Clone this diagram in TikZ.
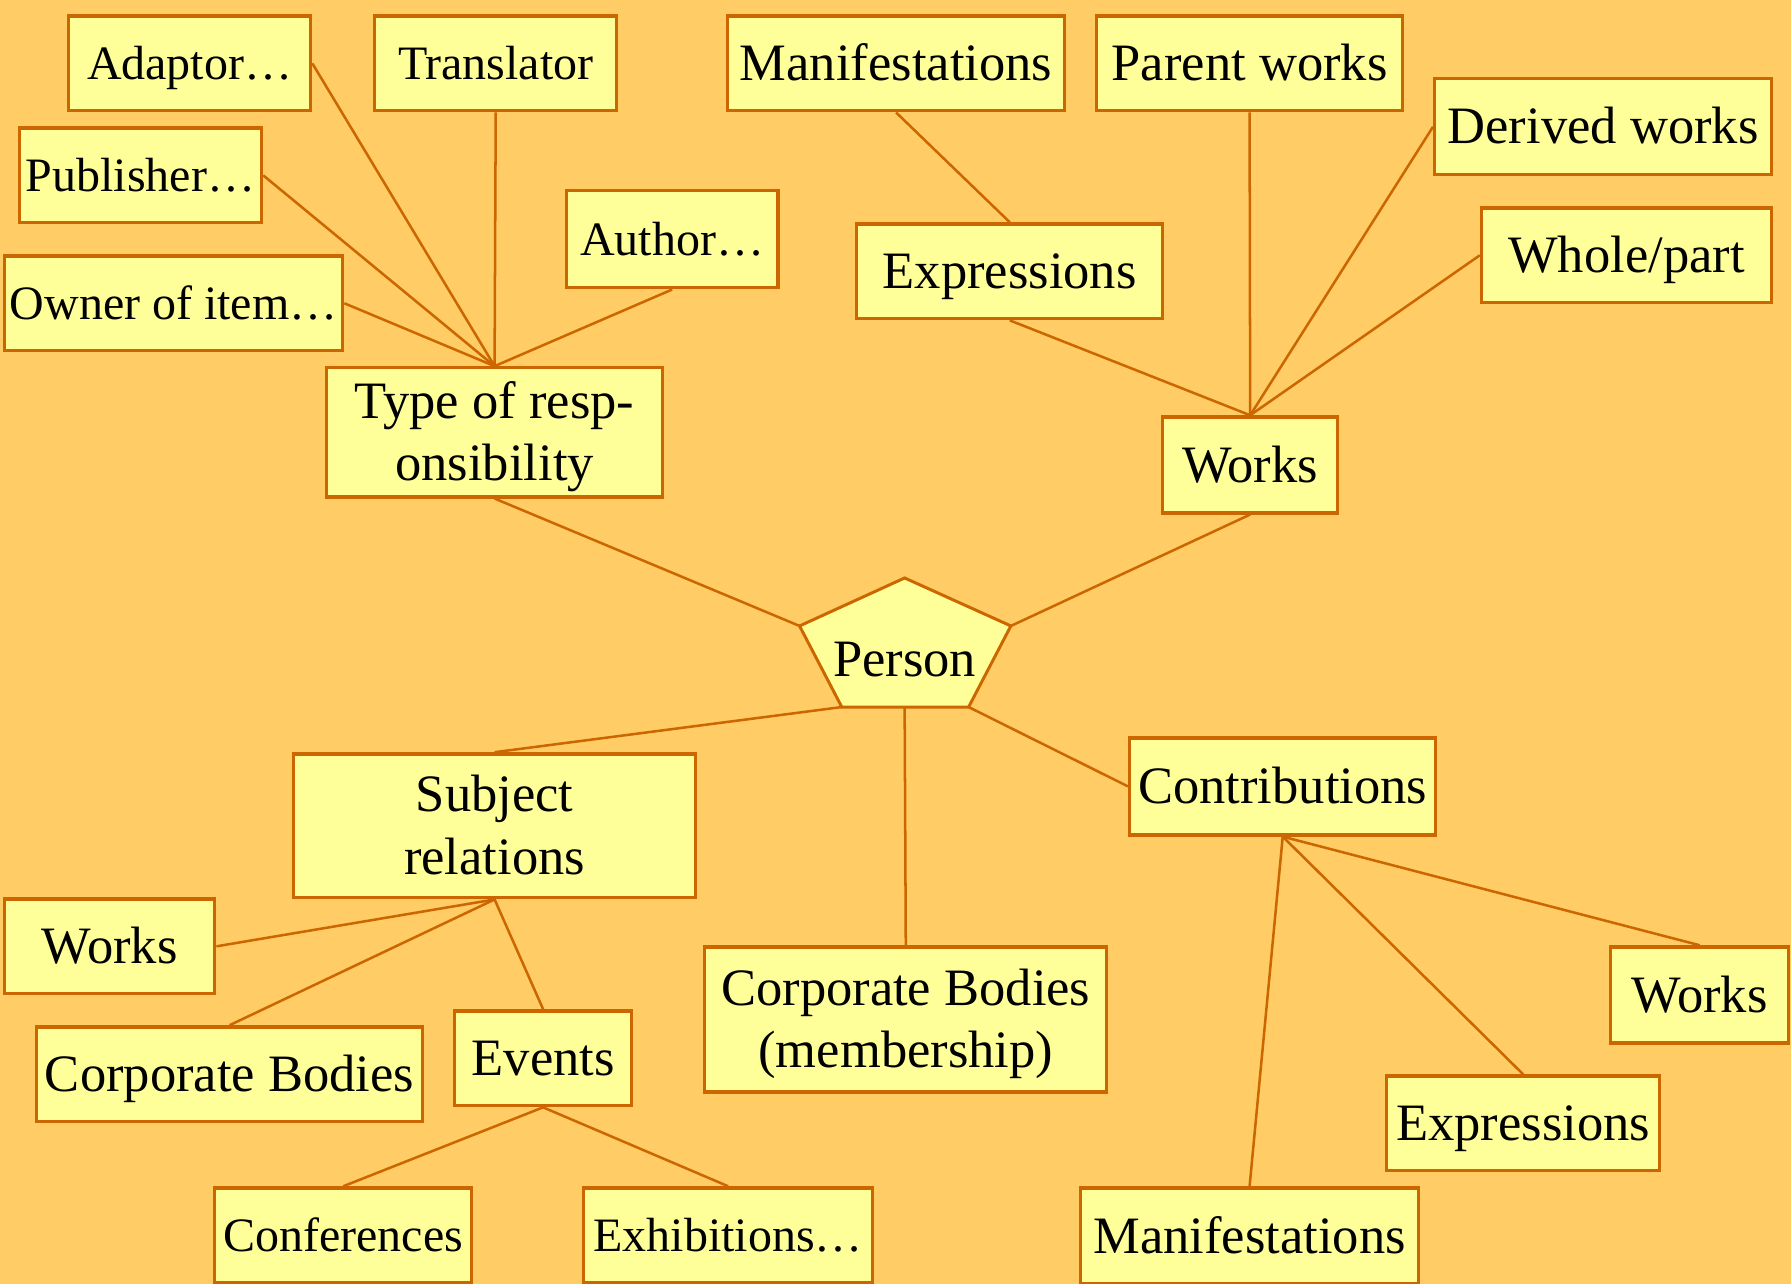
\documentclass[tikz,border=0pt]{standalone}
\usepackage{fontspec}
\setmainfont{Liberation Serif}
\definecolor{bg}{RGB}{255,204,102}
\definecolor{boxfill}{RGB}{255,255,153}
\definecolor{edgec}{RGB}{204,102,0}
\newcommand{\lowtxt}[1]{\raisebox{-2pt}[\height][\depth]{\begin{tabular}{@{}c@{}}#1\end{tabular}}}
\begin{document}
\begin{tikzpicture}[x=0.5pt,y=-0.5pt,
  bx/.style={draw=edgec, fill=boxfill, line width=1.45pt, inner sep=0pt, align=center,
             font=\fontsize{23}{27.5}\selectfont},
  sm/.style={font=\fontsize{21}{25}\selectfont},
  sz/.style 2 args={minimum width=#1*0.5pt, minimum height=#2*0.5pt},
  ln/.style={draw=edgec, line width=1.1pt}]
\useasboundingbox[fill=bg] (0,0) rectangle (1568,1124);

% top-left group
\node[bx,sm,sz={212}{83}] (adaptor) at (166,55.5) {\lowtxt{Adaptor…}};
\node[bx,sm,sz={212}{83}] (translator) at (434,55.5) {\lowtxt{Translator}};
\node[bx,sm,sz={212}{83}] (publisher) at (123,153.5) {\lowtxt{Publisher…}};
\node[bx,sm,sz={296}{83}] (owner) at (152,265.5) {\lowtxt{Owner of item…}};
\node[bx,sm,sz={185}{85}] (author) at (588.5,209.5) {\lowtxt{Author…}};
\node[bx,sz={294}{113}] (type) at (433,378.5) {\lowtxt{Type of resp-\\onsibility}};

% top-right group
\node[bx,sz={295}{83}] (manifT) at (784.5,55.5) {\lowtxt{Manifestations}};
\node[bx,sz={268}{83}] (parent) at (1094,55.5) {\lowtxt{Parent works}};
\node[bx,sz={295}{84}] (derived) at (1403.5,111) {\lowtxt{Derived works}};
\node[bx,sz={268}{83}] (exprT) at (884,237.5) {\lowtxt{Expressions}};
\node[bx,sz={254}{83}] (whole) at (1424,223.5) {\lowtxt{Whole/part}};
\node[bx,sz={153}{84}] (worksT) at (1094.5,407) {\lowtxt{Works}};

% Person pentagon
\coordinate (pT) at (792,506);
\coordinate (pR) at (885,548);
\coordinate (pBR) at (848,619);
\coordinate (pBL) at (737,619);
\coordinate (pL) at (700,548);
\coordinate (pB) at (792,619);
\filldraw[draw=edgec, fill=boxfill, line width=1.3pt, line join=miter] (pT) -- (pR) -- (pBR) -- (pBL) -- (pL) -- cycle;
\node[font=\fontsize{23}{27.5}\selectfont, inner sep=0pt] (person) at (792,577) {Person};

% bottom-left group
\node[bx,sz={352}{126}] (subject) at (433,723) {\lowtxt{Subject\\relations}};
\node[bx,sz={184}{83}] (worksL) at (96,828.5) {\lowtxt{Works}};
\node[bx,sz={338}{83}] (corpL) at (201,940.5) {\lowtxt{Corporate Bodies}};
\node[bx,sz={155}{83}] (events) at (475.5,926.5) {\lowtxt{Events}};
\node[bx,sm,sz={225}{83}] (conf) at (300.5,1081.5) {\lowtxt{Conferences}};
\node[bx,sm,sz={253}{83}] (exhib) at (637.5,1081.5) {\lowtxt{Exhibitions…}};

% centre bottom
\node[bx,sz={352}{127}] (corpM) at (793,892.5) {\lowtxt{Corporate Bodies\\(membership)}};

% bottom-right group
\node[bx,sz={268}{85}] (contrib) at (1123,688.5) {\lowtxt{Contributions}};
\node[bx,sz={156}{84}] (worksR) at (1488,871) {\lowtxt{Works}};
\node[bx,sz={239}{83}] (exprR) at (1333.5,983.5) {\lowtxt{Expressions}};
\node[bx,sz={296}{84}] (manifB) at (1094,1082) {\lowtxt{Manifestations}};

% connectors
\draw[ln] (adaptor.east) -- (type.north);
\draw[ln] (translator.south) -- (type.north);
\draw[ln] (publisher.east) -- (type.north);
\draw[ln] (owner.east) -- (type.north);
\draw[ln] (author.south) -- (type.north);
\draw[ln] (type.south) -- (pL);

\draw[ln] (manifT.south) -- (exprT.north);
\draw[ln] (exprT.south) -- (worksT.north);
\draw[ln] (parent.south) -- (worksT.north);
\draw[ln] (derived.west) -- (worksT.north);
\draw[ln] (whole.west) -- (worksT.north);
\draw[ln] (worksT.south) -- (pR);

\draw[ln] (pBL) -- (subject.north);
\draw[ln] (pB) -- (corpM.north);
\draw[ln] (pBR) -- (contrib.west);

\draw[ln] (subject.south) -- (worksL.east);
\draw[ln] (subject.south) -- (corpL.north);
\draw[ln] (subject.south) -- (events.north);
\draw[ln] (events.south) -- (conf.north);
\draw[ln] (events.south) -- (exhib.north);

\draw[ln] (contrib.south) -- (worksR.north);
\draw[ln] (contrib.south) -- (exprR.north);
\draw[ln] (contrib.south) -- (manifB.north);
\end{tikzpicture}
\end{document}
